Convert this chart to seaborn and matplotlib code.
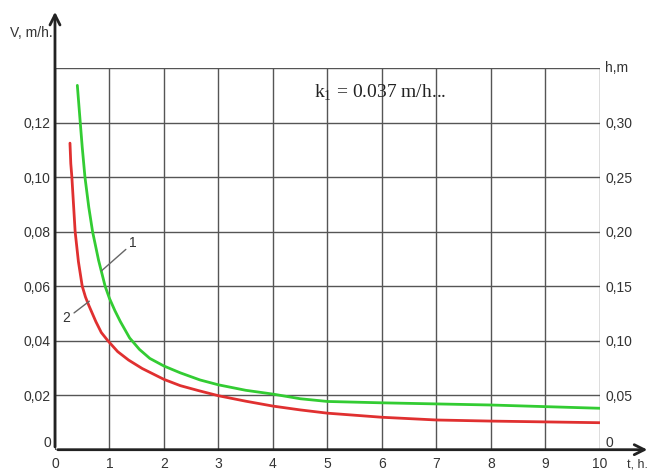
import numpy as np
import pandas as pd
import matplotlib
matplotlib.use('Agg')
import matplotlib.pyplot as plt
import seaborn as sns

# curve 1 (green)
t_green = [0.41, 0.46, 0.50, 0.55, 0.62, 0.69, 0.80, 0.92, 1.0, 1.10, 1.20, 1.37, 1.55, 1.74, 2.0, 2.3, 2.66, 3.0, 3.5, 4.0, 4.5, 5.0, 6.0, 7.0, 8.0, 9.0, 10.0]
v_green = [0.1337, 0.121, 0.111, 0.100, 0.089, 0.080, 0.0695, 0.060, 0.0555, 0.051, 0.047, 0.041, 0.0368, 0.0335, 0.0307, 0.0282, 0.0256, 0.0238, 0.0218, 0.0204, 0.0187, 0.0177, 0.0172, 0.0168, 0.0164, 0.0158, 0.0152]

# curve 2 (red)
t_red = [0.275, 0.29, 0.31, 0.34, 0.37, 0.43, 0.50, 0.56, 0.62, 0.75, 0.85, 0.97, 1.15, 1.35, 1.6, 2.0, 2.3, 2.63, 3.0, 3.5, 4.0, 4.5, 5.0, 6.0, 7.0, 8.0, 9.0, 10.0]
v_red = [0.1125, 0.105, 0.100, 0.090, 0.080, 0.069, 0.060, 0.056, 0.053, 0.047, 0.043, 0.040, 0.036, 0.0329, 0.0298, 0.0258, 0.0235, 0.0217, 0.0198, 0.0178, 0.0160, 0.0146, 0.0134, 0.0119, 0.0109, 0.0105, 0.0102, 0.0099]

x_ticks = list(range(0, 11))
v_ticks = [0, 0.02, 0.04, 0.06, 0.08, 0.10, 0.12]
v_labels = ['0', '0,02', '0,04', '0,06', '0,08', '0,10', '0,12']
h_ticks = [0, 0.05, 0.10, 0.15, 0.20, 0.25, 0.30]
h_labels = ['0', '0,05', '0,10', '0,15', '0,20', '0,25', '0,30']

df_g = pd.DataFrame({'t': t_green, 'v': v_green})
df_r = pd.DataFrame({'t': t_red, 'v': v_red})

sns.set_style('white')
plt.rcParams['font.family'] = ['Liberation Sans', 'DejaVu Sans']
plt.rcParams['mathtext.fontset'] = 'custom'
plt.rcParams['mathtext.rm'] = 'Liberation Serif'

fig = plt.figure(figsize=(6.53, 4.70), dpi=100)
ax = fig.add_axes([0.0842, 0.0432, 0.8346, 0.8117])

txt = '#333333'
gridc = '#555555'

ax.set_xlim(0, 10)
ax.set_ylim(0, 0.14)
ax.set_xticks(x_ticks)
ax.set_yticks(v_ticks + [0.14])
ax.set_yticklabels(v_labels + [''])
ax.grid(True, color=gridc, lw=1)
ax.tick_params(axis='x', length=0, labelsize=10, labelcolor=txt, pad=5)
ax.tick_params(axis='y', length=0, labelsize=10, labelcolor=txt, pad=3)
for s in ['top', 'right', 'left', 'bottom']:
    ax.spines[s].set_visible(False)

sns.lineplot(data=df_g, x='t', y='v', ax=ax, color='#33cc33', lw=2, sort=False, estimator=None)
sns.lineplot(data=df_r, x='t', y='v', ax=ax, color='#e03030', lw=2, sort=False, estimator=None)
ax.set_xlabel('')
ax.set_ylabel('')

# axes with arrows
ax.annotate('', xy=(1.092, 0), xytext=(0, 0), xycoords='axes fraction',
            arrowprops=dict(arrowstyle='->', lw=2, color='#222222', mutation_scale=18))
ax.annotate('', xy=(0, 1.155), xytext=(0, 0), xycoords='axes fraction',
            arrowprops=dict(arrowstyle='->', lw=2, color='#222222', mutation_scale=18))

# right axis
ax2 = ax.twinx()
ax2.set_ylim(0, 0.35)
ax2.set_yticks(h_ticks)
ax2.set_yticklabels(h_labels)
ax2.tick_params(length=0, labelsize=10, labelcolor=txt, pad=4)
for s in ['top', 'right', 'left', 'bottom']:
    ax2.spines[s].set_visible(False)
ax2.grid(False)

# zero labels sit just above the time axis
ax.get_yticklabels()[0].set_va('bottom')
ax2.get_yticklabels()[0].set_va('bottom')

# axis titles
ax.text(-0.083, 1.092, 'V, m/h.', transform=ax.transAxes, ha='left', va='center', fontsize=10, color=txt)
ax.text(1.01, 1.0, 'h,m', transform=ax.transAxes, ha='left', va='center', fontsize=10, color=txt)
ax.text(1.05, -0.04, 't, h.', transform=ax.transAxes, ha='left', va='center', fontsize=9, color=txt)

# curve labels
ax.plot([0.857, 1.30], [0.0657, 0.0735], color='#666666', lw=1)
ax.text(1.36, 0.0759, '1', fontsize=10, color=txt, ha='left', va='center')
ax.plot([0.35, 0.63], [0.0502, 0.0545], color='#666666', lw=1)
ax.text(0.28, 0.0483, '2', fontsize=10, color=txt, ha='right', va='center')

ax.text(5.96, 0.131, r'k$_{\mathrm{1}}$ = 0.037 m/h...', fontsize=14, family='Liberation Serif',
        color='#222222', ha='center', va='center')

plt.savefig('out.png', dpi=100)
